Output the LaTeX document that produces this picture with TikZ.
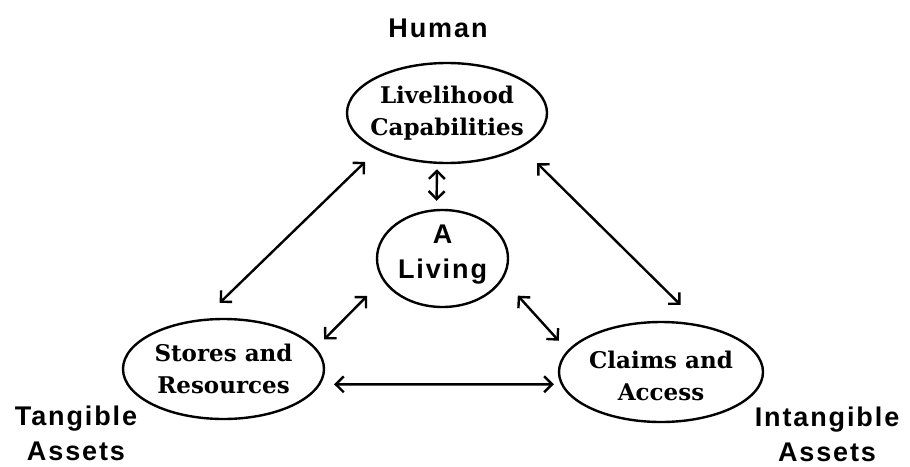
\documentclass[tikz,border=0pt]{standalone}
\usepackage{fontspec}
\setmainfont{DejaVu Serif}
\newfontfamily\labelfont[LetterSpace=7]{Liberation Sans}
\usetikzlibrary{arrows.meta,shapes.geometric}
\begin{document}
\begin{tikzpicture}[x=1pt,y=-1pt,line width=2.4pt,>={Straight Barb[length=8pt,width=16pt]},
    blob/.style={ellipse,draw,inner sep=0pt},
    bubtext/.style={font=\fontsize{23}{32}\selectfont\bfseries,align=center,inner sep=0pt},
    corner/.style={font=\labelfont\fontsize{27}{35}\selectfont\bfseries,align=center,inner sep=0pt}]
            \useasboundingbox (0,0) rectangle (910,466);

            \node[blob,minimum width=200pt,minimum height=100pt] (liveli) at (447,113) {};
            \node[blob,minimum width=131pt,minimum height=97pt] (living) at (442.5,258.5) {};
            \node[blob,minimum width=201pt,minimum height=100pt] (stores) at (223.5,369) {};
            \node[blob,minimum width=204pt,minimum height=100pt] (claims) at (661,372) {};

            \node[bubtext] (liveli-t) at (liveli) {Livelihood\\Capabilities};
            \node[corner,yshift=4pt] (living-t) at (living) {A\\Living};
            \node[bubtext] (stores-t) at (stores) {Stores and\\Resources};
            \node[bubtext,yshift=-4pt] (claims-t) at (claims) {Claims and\\Access};

            \node[corner] (human) at (438,28) {Human};
            \node[corner] (tangible) at (76,433) {Tangible\\Assets};
            \node[corner] (intangible) at (827,434) {Intangible\\Assets};

            \foreach \a/\b/\s/\e in {stores.112/liveli.208/22.9pt/16.9pt, liveli.335/claims.50/22pt/28.2pt, stores.13/living.200/11.5pt/21.9pt, living.341/claims.167/22pt/13pt, liveli.259/living.97/5.3pt/8.2pt, stores.351/claims.187/13.6pt/7pt} {
                \draw[<->,shorten <=\s,shorten >=\e] (\a) -- (\b);
            }
        \end{tikzpicture}
\end{document}
